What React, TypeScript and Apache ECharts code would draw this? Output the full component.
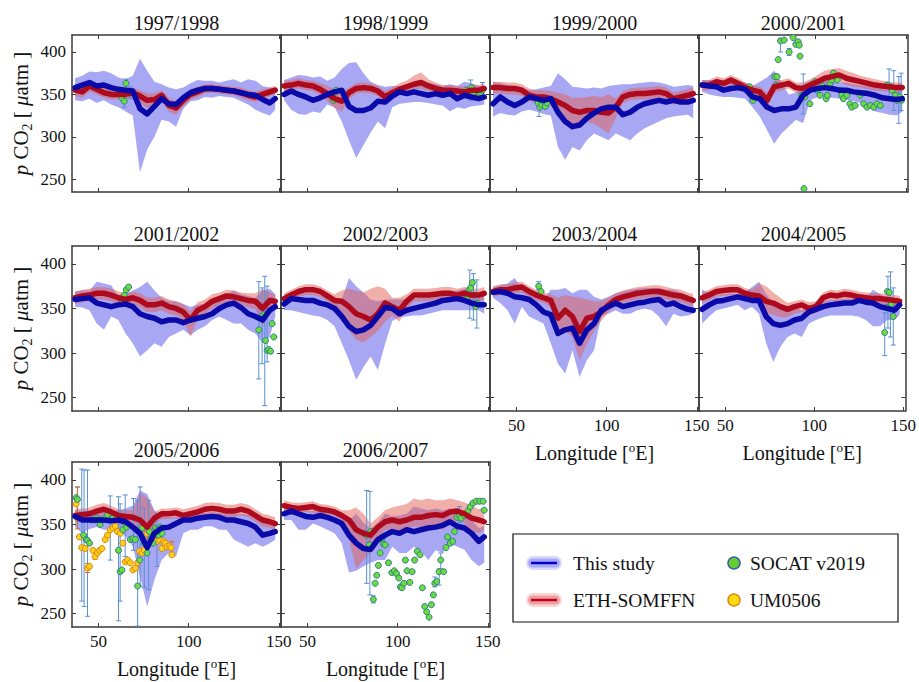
import React, { useEffect, useRef } from 'react';
import * as echarts from 'echarts';

const LON = [37, 41, 45, 49, 53, 57, 61, 65, 69, 73, 77, 81, 85, 89, 93, 97, 101, 105, 109, 113, 117, 121, 125, 129, 133, 137, 141, 145, 148];
const YEAR_LABELS = ['1997/1998', '1998/1999', '1999/2000', '2000/2001', '2001/2002', '2002/2003', '2003/2004', '2004/2005', '2005/2006', '2006/2007'];
const X_TICKS = [50, 100, 150];
const Y_TICKS = [250, 300, 350, 400];

// "This study" mean pCO2 per panel
const BLUE_MEAN = [
  [358, 361, 364, 360, 361, 358, 356, 355, 354, 333, 327, 336, 345, 339, 338, 346, 352, 355, 357, 357, 356, 355, 354, 352, 350, 349, 344, 340, 345],
  [350, 354, 350, 347, 343, 346, 350, 353, 355, 336, 331, 331, 334, 342, 341, 348, 353, 351, 353, 351, 349, 351, 349, 351, 345, 349, 347, 345, 347],
  [339, 347, 341, 337, 341, 347, 345, 343, 345, 329, 318, 312, 314, 322, 328, 333, 335, 335, 326, 329, 335, 339, 341, 343, 341, 343, 341, 341, 343],
  [361, 360, 359, 355, 357, 358, 356, 347, 345, 335, 331, 333, 333, 335, 349, 355, 357, 358, 357, 355, 355, 353, 352, 351, 349, 346, 345, 344, 345],
  [360, 361, 362, 356, 354, 352, 354, 355, 352, 344, 341, 339, 335, 337, 337, 334, 337, 339, 341, 344, 350, 354, 356, 351, 344, 341, 337, 348, 352],
  [355, 361, 360, 359, 359, 356, 354, 350, 341, 330, 324, 326, 331, 341, 351, 350, 344, 348, 350, 352, 354, 356, 359, 360, 361, 359, 356, 354, 354],
  [368, 369, 367, 363, 362, 360, 354, 346, 343, 322, 326, 328, 311, 326, 333, 348, 352, 356, 352, 354, 356, 357, 359, 360, 354, 356, 352, 349, 348],
  [349, 354, 358, 359, 361, 363, 361, 359, 359, 341, 333, 331, 333, 337, 339, 346, 349, 352, 354, 355, 356, 356, 359, 357, 356, 352, 350, 348, 354],
  [359, 355, 355, 355, 355, 354, 355, 353, 347, 340, 324, 340, 346, 347, 351, 355, 355, 357, 358, 359, 358, 355, 355, 353, 351, 347, 338, 340, 342],
  [362, 365, 362, 359, 358, 360, 358, 355, 351, 338, 329, 323, 322, 333, 338, 342, 340, 344, 342, 344, 346, 347, 349, 353, 348, 346, 340, 331, 336],
];
const BLUE_LO = [
  [343, 342, 345, 340, 343, 338, 335, 330, 325, 258, 285, 300, 320, 318, 312, 333, 342, 343, 347, 346, 348, 347, 346, 342, 338, 332, 328, 325, 332],
  [343, 332, 327, 326, 330, 328, 338, 335, 318, 296, 275, 290, 305, 318, 310, 335, 339, 340, 341, 341, 340, 338, 337, 330, 335, 333, 336, 337, 338],
  [324, 328, 326, 325, 330, 332, 330, 327, 325, 288, 273, 288, 284, 296, 304, 300, 296, 304, 300, 296, 304, 310, 314, 318, 322, 324, 325, 326, 322],
  [353, 350, 348, 347, 347, 346, 345, 335, 324, 308, 292, 304, 312, 320, 316, 343, 347, 347, 346, 345, 344, 342, 340, 336, 330, 328, 326, 325, 330],
  [352, 351, 348, 333, 326, 341, 337, 322, 311, 296, 303, 311, 307, 318, 322, 326, 320, 326, 330, 337, 341, 337, 333, 333, 326, 322, 311, 318, 341],
  [348, 348, 346, 344, 342, 341, 337, 330, 311, 292, 270, 284, 296, 281, 310, 336, 340, 341, 342, 342, 344, 346, 348, 348, 348, 348, 348, 348, 344],
  [362, 356, 348, 333, 352, 341, 337, 333, 311, 288, 277, 303, 273, 292, 303, 341, 344, 348, 344, 344, 348, 350, 348, 341, 330, 344, 341, 342, 344],
  [333, 341, 348, 350, 352, 354, 348, 352, 344, 311, 290, 307, 318, 322, 318, 333, 337, 340, 342, 342, 342, 342, 341, 337, 330, 330, 337, 337, 343],
  [347, 340, 345, 347, 344, 344, 340, 337, 325, 292, 258, 288, 310, 318, 314, 340, 344, 344, 348, 348, 344, 344, 333, 329, 325, 329, 325, 329, 333],
  [355, 355, 344, 344, 351, 348, 344, 340, 329, 296, 298, 303, 307, 310, 310, 325, 318, 318, 325, 320, 310, 321, 318, 329, 325, 322, 310, 303, 307],
];
const BLUE_HI = [
  [369, 372, 377, 376, 378, 375, 370, 368, 372, 392, 378, 365, 362, 358, 356, 358, 363, 367, 366, 366, 364, 366, 368, 364, 368, 366, 360, 358, 357],
  [367, 370, 373, 372, 370, 371, 366, 370, 380, 387, 388, 375, 365, 361, 359, 360, 360, 362, 364, 365, 364, 362, 360, 362, 360, 365, 363, 360, 360],
  [365, 363, 361, 360, 358, 355, 356, 358, 360, 375, 368, 359, 358, 357, 358, 357, 360, 361, 362, 362, 363, 364, 365, 364, 362, 359, 360, 361, 360],
  [367, 367, 366, 363, 365, 366, 364, 360, 365, 370, 378, 365, 350, 352, 362, 366, 366, 366, 365, 364, 364, 362, 361, 360, 360, 358, 358, 357, 357],
  [369, 370, 370, 380, 378, 376, 364, 366, 370, 374, 380, 370, 362, 358, 358, 355, 352, 354, 355, 358, 362, 366, 370, 366, 364, 362, 370, 372, 366],
  [365, 369, 368, 367, 367, 365, 362, 360, 360, 384, 375, 368, 360, 358, 360, 360, 360, 360, 361, 362, 364, 365, 367, 368, 370, 372, 368, 365, 364],
  [374, 376, 378, 384, 372, 371, 365, 360, 371, 371, 373, 367, 371, 371, 363, 360, 363, 367, 369, 371, 372, 373, 373, 373, 371, 371, 368, 365, 362],
  [371, 368, 366, 366, 367, 366, 368, 374, 380, 366, 357, 352, 348, 352, 348, 352, 357, 358, 360, 360, 361, 361, 361, 362, 371, 366, 362, 357, 359],
  [366, 365, 366, 366, 367, 365, 366, 368, 371, 388, 384, 366, 360, 358, 359, 360, 361, 362, 363, 364, 363, 362, 362, 362, 361, 360, 355, 352, 354],
  [369, 372, 369, 366, 365, 368, 364, 362, 359, 355, 362, 352, 345, 352, 362, 359, 360, 362, 370, 368, 366, 368, 366, 368, 366, 360, 355, 346, 348],
];
// ETH-SOMFFN mean pCO2 per panel
const RED_MEAN = [
  [355, 353, 360, 356, 352, 350, 350, 350, 352, 348, 343, 344, 349, 337, 334, 343, 350, 353, 357, 357, 356, 355, 354, 352, 349, 347, 350, 353, 355],
  [360, 361, 363, 361, 360, 356, 351, 345, 342, 352, 357, 358, 357, 354, 347, 352, 356, 359, 362, 364, 360, 357, 355, 355, 354, 353, 355, 355, 357],
  [358, 358, 357, 357, 355, 349, 347, 347, 345, 341, 337, 331, 329, 331, 331, 329, 328, 335, 347, 350, 351, 351, 352, 353, 351, 345, 347, 349, 351],
  [361, 361, 365, 363, 367, 363, 358, 355, 353, 343, 359, 361, 363, 358, 357, 361, 365, 369, 371, 373, 369, 367, 365, 363, 361, 360, 359, 358, 358],
  [362, 364, 365, 367, 367, 365, 362, 360, 362, 359, 354, 354, 356, 352, 350, 346, 337, 348, 352, 358, 361, 364, 363, 361, 359, 358, 350, 359, 358],
  [361, 365, 369, 371, 371, 369, 364, 359, 358, 352, 344, 341, 337, 344, 356, 352, 348, 358, 365, 365, 365, 366, 367, 367, 365, 367, 365, 365, 367],
  [369, 371, 371, 373, 374, 369, 365, 362, 359, 339, 348, 341, 324, 339, 341, 346, 354, 360, 363, 365, 367, 368, 369, 369, 367, 365, 364, 361, 359],
  [362, 365, 369, 370, 371, 371, 367, 365, 364, 358, 356, 352, 349, 352, 354, 350, 352, 362, 365, 364, 366, 365, 363, 362, 361, 361, 360, 359, 358],
  [360, 361, 362, 365, 367, 364, 360, 359, 358, 355, 347, 357, 362, 362, 363, 360, 362, 364, 367, 368, 367, 365, 365, 367, 365, 360, 355, 353, 351],
  [371, 369, 368, 369, 370, 367, 366, 364, 360, 355, 344, 340, 338, 347, 353, 355, 353, 355, 358, 358, 360, 361, 360, 364, 365, 362, 357, 355, 353],
];
const RED_LO = [
  [348, 346, 353, 350, 346, 344, 344, 344, 346, 340, 334, 336, 342, 330, 326, 336, 344, 347, 351, 352, 351, 350, 349, 346, 343, 341, 344, 348, 350],
  [354, 355, 357, 355, 354, 349, 342, 334, 330, 344, 351, 352, 351, 348, 340, 346, 350, 353, 356, 357, 354, 351, 349, 349, 348, 347, 349, 349, 351],
  [351, 351, 350, 350, 348, 342, 339, 339, 336, 330, 322, 316, 312, 318, 315, 310, 304, 322, 340, 343, 344, 344, 345, 346, 344, 338, 340, 342, 344],
  [355, 355, 359, 357, 361, 357, 352, 349, 346, 335, 352, 355, 357, 352, 350, 354, 358, 361, 363, 365, 361, 359, 358, 356, 354, 354, 353, 352, 352],
  [355, 357, 358, 360, 360, 358, 355, 353, 355, 351, 346, 346, 348, 344, 342, 337, 318, 339, 344, 350, 354, 357, 356, 354, 351, 349, 330, 350, 350],
  [355, 359, 363, 365, 365, 363, 358, 352, 340, 325, 315, 312, 318, 325, 335, 342, 335, 350, 358, 358, 358, 359, 360, 360, 358, 360, 358, 358, 360],
  [363, 365, 365, 367, 368, 363, 359, 356, 352, 318, 325, 318, 292, 310, 325, 336, 346, 353, 356, 358, 360, 361, 362, 362, 360, 358, 357, 354, 352],
  [356, 359, 363, 364, 365, 365, 361, 359, 356, 344, 343, 340, 340, 344, 346, 342, 345, 355, 359, 358, 360, 359, 357, 356, 355, 355, 354, 353, 352],
  [353, 354, 355, 358, 360, 357, 353, 352, 350, 335, 325, 350, 356, 356, 357, 353, 355, 357, 360, 361, 360, 358, 358, 360, 358, 353, 348, 346, 344],
  [366, 365, 364, 364, 363, 362, 361, 360, 355, 333, 300, 310, 318, 333, 344, 344, 340, 344, 348, 347, 344, 348, 344, 351, 355, 351, 342, 340, 344],
];
const RED_HI = [
  [361, 360, 366, 362, 358, 356, 356, 356, 358, 355, 351, 351, 355, 346, 342, 349, 356, 359, 362, 362, 361, 360, 359, 358, 355, 353, 356, 358, 360],
  [366, 367, 369, 367, 366, 363, 360, 356, 352, 358, 363, 364, 363, 360, 354, 358, 363, 366, 372, 376, 368, 364, 361, 361, 360, 359, 361, 361, 363],
  [365, 365, 364, 364, 362, 357, 355, 355, 354, 352, 350, 346, 346, 347, 348, 347, 350, 345, 354, 357, 358, 358, 359, 360, 358, 352, 354, 356, 358],
  [367, 367, 371, 369, 373, 369, 364, 361, 359, 352, 366, 367, 369, 364, 364, 368, 373, 378, 380, 381, 378, 375, 372, 370, 368, 366, 365, 364, 364],
  [369, 371, 372, 374, 374, 372, 369, 367, 369, 367, 362, 362, 364, 360, 358, 355, 347, 357, 360, 366, 368, 371, 370, 368, 367, 367, 372, 368, 366],
  [367, 371, 375, 377, 377, 375, 370, 366, 370, 372, 370, 368, 372, 375, 372, 362, 362, 366, 372, 372, 372, 373, 374, 374, 372, 374, 372, 372, 374],
  [375, 377, 377, 379, 380, 375, 371, 368, 366, 362, 365, 363, 362, 360, 358, 358, 362, 367, 370, 372, 374, 375, 376, 376, 374, 372, 371, 368, 366],
  [368, 371, 375, 376, 377, 377, 373, 371, 378, 375, 368, 362, 356, 358, 360, 357, 358, 368, 371, 370, 372, 371, 369, 368, 367, 367, 366, 365, 364],
  [367, 368, 369, 372, 374, 371, 367, 366, 366, 385, 380, 364, 368, 368, 369, 367, 369, 371, 374, 375, 374, 372, 372, 374, 372, 367, 362, 360, 358],
  [377, 375, 374, 375, 376, 373, 372, 370, 366, 366, 369, 362, 351, 358, 366, 369, 371, 373, 379, 377, 379, 377, 377, 379, 377, 375, 371, 367, 369],
];

// SOCAT v2019 observations [lon, pCO2]
const SOCAT = [
  [[65.2, 363], [63.5, 353], [67.6, 352], [63, 346], [64.3, 342]],
  [[63, 350], [64, 346], [65, 352], [66, 355], [64.5, 343], [138, 355], [140, 350], [141, 358], [142, 352], [144, 347], [145, 349], [146, 352], [147, 355]],
  [[62, 340], [63, 335], [64, 338], [65, 342], [66, 336], [67, 340]],
  [[79.2, 391], [80.5, 413], [82.5, 414], [85.3, 400], [87.5, 417], [89, 409], [90.3, 412], [90.9, 408], [91.3, 395], [93.5, 239],
    [63.4, 359], [64.3, 349], [65.2, 343], [77.3, 371], [78.6, 371], [77.9, 361], [92.2, 349], [94, 347], [96.8, 339], [99.6, 365],
    [100.6, 355], [102.4, 349], [103.9, 360], [105.8, 345], [106.5, 349], [108, 363], [108.9, 367], [109.9, 375], [110.8, 371], [112, 367],
    [113.6, 355], [114.5, 349], [115.4, 345], [117.3, 349], [119, 339], [120, 335], [121.9, 337], [124.7, 349], [126.6, 339], [128.4, 335],
    [130.3, 337], [132.2, 335], [134, 339], [135.9, 337], [139.6, 361], [141.4, 359], [142.4, 355], [144.2, 349], [145.2, 343], [146.7, 347], [147.6, 343]],
  [[63, 359], [64.3, 365], [65.4, 371], [66.7, 374], [138.9, 326], [140.7, 341], [141.7, 343], [142.6, 314], [143.5, 303], [144.4, 304], [145.4, 302], [146.3, 333], [147.2, 318]],
  [[138.3, 361], [139.6, 371], [140.5, 373], [141.4, 379], [142.4, 365], [143.3, 352], [144.2, 356]],
  [[62.3, 375], [63.6, 369]],
  [[139.6, 323], [140.5, 351], [141.1, 369], [142.2, 368], [143.3, 355], [144.4, 341]],
  [[37.6, 380], [38.3, 378], [40.7, 360], [41.7, 338], [43.1, 333], [43.9, 332], [45, 329], [46.3, 355], [48.1, 355], [49, 357],
    [50, 355], [50.9, 350], [51.9, 355], [53.7, 357], [55, 361], [56.5, 355], [58.3, 358], [60.2, 358], [61.1, 321], [62, 297],
    [63, 299], [63.5, 344], [64.8, 351], [65.7, 347], [67.6, 333], [69, 334], [70.4, 333], [71.7, 281], [72.8, 310], [74.1, 346],
    [75.4, 329], [76.9, 318], [78.1, 342], [79, 334], [80.2, 329], [81.5, 346], [82.4, 344], [83.3, 338], [84.3, 347], [85.2, 340]],
  [[81.3, 340], [82.8, 338], [84.3, 327], [85.2, 342], [86.5, 266], [87.5, 284], [88.4, 293], [89.3, 304], [90.3, 318], [91.2, 334],
    [92.1, 328], [93.1, 327], [94.9, 307], [96.8, 296], [98.1, 298], [99.3, 295], [100.6, 290], [101.5, 280], [102.4, 279], [103.4, 284],
    [104.3, 310], [105.2, 298], [106.7, 285], [108, 297], [109.4, 310], [110.9, 320], [112.4, 316], [113.7, 279], [115, 258], [116.1, 252],
    [117.4, 246], [118.7, 260], [119.8, 271], [120.6, 284], [121.7, 286], [123, 297], [123.9, 310], [125.5, 297], [126.8, 324], [127.7, 336],
    [129.2, 329], [130.5, 331], [131.5, 342], [133, 358], [134.3, 360], [135.2, 357], [137.1, 360], [138.9, 365], [140.3, 370], [141.8, 374],
    [143.6, 376], [145.5, 376], [147.4, 376], [148, 366]],
];
// SOCAT error bars [lon, low, high]
const SOCAT_ERR = [
  [[64.3, 335, 350], [65.2, 355, 368], [67.6, 345, 359]],
  [[140.5, 343, 367], [147, 346, 364]],
  [[62.5, 324, 343]],
  [[80.5, 400, 416], [85.3, 396, 404], [93.1, 327, 374], [140.7, 343, 380], [143.3, 331, 378], [146.1, 316, 371], [147.4, 331, 375]],
  [[138.9, 271, 380], [140.7, 288, 373], [142.2, 241, 386], [143.5, 290, 375]],
  [[140, 339, 393], [142, 337, 389], [143.9, 328, 382]],
  [[62.3, 371, 380]],
  [[139.6, 297, 345], [141.4, 328, 386], [142.8, 318, 391], [144.4, 309, 373]],
  [[38.3, 355, 392], [40.7, 264, 412], [42, 258, 411], [43.9, 247, 411], [56.5, 310, 382], [61.1, 242, 381], [62, 264, 373],
    [64.8, 314, 383], [69.4, 321, 379], [71.7, 236, 377], [73.1, 281, 392], [75.4, 279, 368], [77.8, 277, 377], [82.4, 303, 362]],
  [[82.8, 284, 388], [84.6, 271, 387], [86.5, 262, 270], [120.6, 280, 291], [123, 282, 300], [123.9, 300, 318], [134.3, 352, 370]],
];
// UM0506 cruise observations (2005/2006 only)
const UM0506 = [
  [], [], [], [], [], [], [], [],
  [[37.6, 373], [38.3, 357], [39.4, 336], [40.7, 324], [42.6, 323], [43.9, 301], [45, 303], [46.9, 321], [48.1, 314], [49.4, 318],
    [50.6, 321], [51.9, 323], [53.7, 333], [55, 338], [56.5, 344], [58, 346], [59.3, 348], [60.6, 342], [62, 340], [63.5, 329],
    [64.8, 308], [66.1, 310], [67.6, 307], [69, 299], [70.4, 301], [71.7, 307], [72.8, 320], [74.1, 318], [75.4, 321], [76.9, 340],
    [78.1, 342], [79.6, 334], [80.9, 338], [82.4, 331], [83.9, 333], [85.2, 323], [86.1, 331], [87, 329], [88, 325], [89.4, 326],
    [90.2, 324], [90.7, 316]],
  [],
];
const UM0506_ERR = [
  [], [], [], [], [], [], [], [],
  [[38.3, 345, 392], [43.9, 296, 306], [48.1, 311, 318], [90.7, 314, 331]],
  [],
];

const FONT = '"Liberation Serif", "Times New Roman", Times, serif';
const BLUE = '#0a0aa8';
const RED = '#ad0a1e';
const BLUE_BAND = 'rgba(95,95,235,0.55)';
const RED_BAND = 'rgba(228,95,85,0.5)';
const AXIS_COLOR = '#3a3a3a';

const COL_LEFT = [72, 281, 490, 699];
const ROW_TOP = [35, 246, 462];
const ROW_H = [157, 165, 165];
const PANEL_W = 209;

function bandSeries(lo: number[], hi: number[], color: string, idx: number) {
  const data = LON.map((x, i) => [x, lo[i], hi[i]]);
  return {
    type: 'custom',
    xAxisIndex: idx,
    yAxisIndex: idx,
    silent: true,
    clip: true,
    data,
    encode: { x: 0, y: [1, 2] },
    renderItem: (params: any, api: any) => {
      if (params.dataIndex !== 0) return { type: 'group', children: [] };
      const up = data.map((d) => api.coord([d[0], d[2]]));
      const dn = data.map((d) => api.coord([d[0], d[1]])).reverse();
      return { type: 'polygon', shape: { points: up.concat(dn) }, style: { fill: color } };
    },
  };
}

function lineSeries(name: string, vals: number[], color: string, idx: number) {
  return {
    type: 'line',
    name,
    xAxisIndex: idx,
    yAxisIndex: idx,
    data: LON.map((x, i) => [x, vals[i]]),
    showSymbol: false,
    silent: true,
    lineStyle: { color, width: 5.5, cap: 'round', join: 'round' },
  };
}

function errSeries(data: number[][], color: string, idx: number) {
  return {
    type: 'custom',
    xAxisIndex: idx,
    yAxisIndex: idx,
    silent: true,
    clip: true,
    data,
    encode: { x: 0, y: [1, 2] },
    renderItem: (params: any, api: any) => {
      const x = api.value(0);
      const a = api.coord([x, api.value(1)]);
      const b = api.coord([x, api.value(2)]);
      const w = 2.5;
      const st = { stroke: color, lineWidth: 1 };
      return {
        type: 'group',
        children: [
          { type: 'line', shape: { x1: a[0], y1: a[1], x2: b[0], y2: b[1] }, style: st },
          { type: 'line', shape: { x1: a[0] - w, y1: a[1], x2: a[0] + w, y2: a[1] }, style: st },
          { type: 'line', shape: { x1: b[0] - w, y1: b[1], x2: b[0] + w, y2: b[1] }, style: st },
        ],
      };
    },
  };
}

function scatterSeries(name: string, data: number[][], fill: string, border: string, idx: number) {
  return {
    type: 'scatter',
    name,
    xAxisIndex: idx,
    yAxisIndex: idx,
    silent: true,
    data,
    symbol: 'circle',
    symbolSize: 6,
    itemStyle: { color: fill, borderColor: border, borderWidth: 1, opacity: 1 },
  };
}

function buildOption() {
  const grids: any[] = [];
  const xAxes: any[] = [];
  const yAxes: any[] = [];
  const series: any[] = [];
  const graphics: any[] = [];

  for (let p = 0; p < 10; p++) {
    const row = Math.floor(p / 4);
    const col = p % 4;
    const left = COL_LEFT[col];
    const top = ROW_TOP[row];
    const h = ROW_H[row];
    grids.push({ left, top, width: PANEL_W, height: h, containLabel: false });
    const showX = p >= 6;
    const showY = col === 0;
    const lineSt = { show: true, onZero: false, lineStyle: { color: AXIS_COLOR, width: 1.5 } };
    const tickX = { show: true, inside: true, length: 4, customValues: X_TICKS, lineStyle: { color: AXIS_COLOR, width: 1 } };
    const tickY = { show: true, inside: true, length: 4, customValues: Y_TICKS, lineStyle: { color: AXIS_COLOR, width: 1 } };
    const common = { type: 'value', gridIndex: p, splitLine: { show: false } };
    xAxes.push({
      ...common, min: 35.3, max: 151.2, position: 'bottom',
      axisLine: lineSt, axisTick: tickX,
      axisLabel: { show: showX, customValues: X_TICKS, fontFamily: FONT, fontSize: 17, color: '#111', margin: 6 },
      name: showX ? 'Longitude [{sup|o}E]' : '',
      nameLocation: 'middle', nameGap: 30,
      nameTextStyle: {
        fontFamily: FONT, fontSize: 20, color: '#111', lineHeight: 24,
        rich: { sup: { fontFamily: FONT, fontSize: 13, color: '#111', verticalAlign: 'top', lineHeight: 24, padding: [0, 0, 8, 0] } },
      },
    });
    xAxes.push({
      ...common, min: 35.3, max: 151.2, position: 'top',
      axisLine: lineSt, axisTick: tickX, axisLabel: { show: false },
    });
    yAxes.push({
      ...common, min: 235, max: 420, position: 'left',
      axisLine: lineSt, axisTick: tickY,
      axisLabel: { show: showY, customValues: Y_TICKS, fontFamily: FONT, fontSize: 17, color: '#111', margin: 6 },
      name: showY ? '{it|p} CO{sub|2} [ {it|μ}atm ]' : '',
      nameLocation: 'middle', nameRotate: 90, nameGap: 38,
      nameTextStyle: {
        fontFamily: FONT, fontSize: 21, color: '#111', lineHeight: 26,
        rich: {
          it: { fontFamily: FONT, fontSize: 21, fontStyle: 'italic', color: '#111', lineHeight: 26 },
          sub: { fontFamily: FONT, fontSize: 14, color: '#111', verticalAlign: 'bottom', lineHeight: 26, padding: [10, 0, 0, 0] },
        },
      },
    });
    yAxes.push({
      ...common, min: 235, max: 420, position: 'right',
      axisLine: lineSt, axisTick: tickY, axisLabel: { show: false },
    });

    const xi = 2 * p;
    series.push(bandSeries(BLUE_LO[p], BLUE_HI[p], BLUE_BAND, xi));
    series.push(bandSeries(RED_LO[p], RED_HI[p], RED_BAND, xi));
    series.push(lineSeries('ETH-SOMFFN', RED_MEAN[p], RED, xi));
    series.push(lineSeries('This study', BLUE_MEAN[p], BLUE, xi));
    if (SOCAT_ERR[p].length) series.push(errSeries(SOCAT_ERR[p], '#5a8fd2', xi));
    if (UM0506_ERR[p].length) series.push(errSeries(UM0506_ERR[p], '#cf6d35', xi));
    if (UM0506[p].length) series.push(scatterSeries('UM0506', UM0506[p], '#ffcf1a', '#d9860d', xi));
    if (SOCAT[p].length) series.push(scatterSeries('SOCAT v2019', SOCAT[p], '#6bdc3e', '#2f7d8a', xi));

    graphics.push({
      type: 'text', x: left + PANEL_W / 2, y: top - 12,
      style: { text: YEAR_LABELS[p], fontFamily: FONT, fontSize: 20, fill: '#111', textAlign: 'center', textVerticalAlign: 'middle' },
    });
  }

  // legend
  const lx = 513, ly = 534;
  graphics.push({ type: 'rect', shape: { x: lx, y: ly, width: 385, height: 88 }, style: { fill: '#fff', stroke: '#111', lineWidth: 1.2 } });
  const rows = [
    { y: 563, glow1: 'rgba(120,120,245,0.28)', glow2: 'rgba(110,110,245,0.45)', col: '#0000c8', text: 'This study' },
    { y: 600, glow1: 'rgba(232,110,110,0.28)', glow2: 'rgba(225,95,95,0.45)', col: '#c0001a', text: 'ETH-SOMFFN' },
  ];
  rows.forEach((r) => {
    graphics.push({ type: 'rect', shape: { x: 526, y: r.y - 7, width: 36, height: 14, r: 7 }, style: { fill: r.glow1 } });
    graphics.push({ type: 'rect', shape: { x: 528, y: r.y - 4.5, width: 32, height: 9, r: 4.5 }, style: { fill: r.glow2 } });
    graphics.push({ type: 'line', shape: { x1: 531, y1: r.y, x2: 557, y2: r.y }, style: { stroke: r.col, lineWidth: 2.5 } });
    graphics.push({ type: 'text', x: 573, y: r.y, style: { text: r.text, fontFamily: FONT, fontSize: 19.5, fill: '#111', textVerticalAlign: 'middle' } });
  });
  graphics.push({ type: 'circle', shape: { cx: 734, cy: 563, r: 6 }, style: { fill: '#66cc33', stroke: '#3a5fa8', lineWidth: 1.5 } });
  graphics.push({ type: 'text', x: 750, y: 563, style: { text: 'SOCAT v2019', fontFamily: FONT, fontSize: 19.5, fill: '#111', textVerticalAlign: 'middle' } });
  graphics.push({ type: 'circle', shape: { cx: 734, cy: 600, r: 6 }, style: { fill: '#ffdd10', stroke: '#dd8a10', lineWidth: 1.5 } });
  graphics.push({ type: 'text', x: 750, y: 600, style: { text: 'UM0506', fontFamily: FONT, fontSize: 19.5, fill: '#111', textVerticalAlign: 'middle' } });

  return {
    animation: false,
    backgroundColor: '#ffffff',
    textStyle: { fontFamily: FONT },
    grid: grids,
    xAxis: xAxes,
    yAxis: yAxes,
    series,
    graphic: graphics,
  };
}

export default function App() {
  const ref = useRef<HTMLDivElement>(null);
  useEffect(() => {
    if (!ref.current) return;
    const chart = echarts.init(ref.current, undefined, { renderer: 'svg' });
    chart.setOption(buildOption() as any);
    return () => chart.dispose();
  }, []);
  return <div ref={ref} style={{ position: 'fixed', left: 0, top: 0, width: 919, height: 682, background: '#fff' }} />;
}
